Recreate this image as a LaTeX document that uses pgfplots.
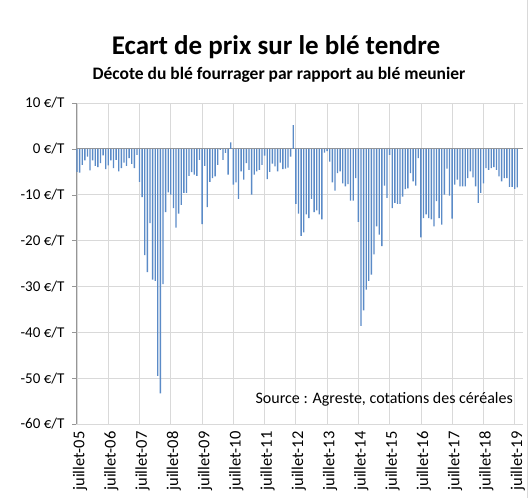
\documentclass[border=0pt]{standalone}
\usepackage{pgfplots}
\pgfplotsset{compat=1.18}
\usepackage{pgfplotstable}
\usepackage{fontspec}
\setmainfont{Carlito}
\definecolor{barblue}{RGB}{91,139,199}
\definecolor{gridgray}{RGB}{217,217,217}
\definecolor{axgray}{RGB}{150,150,150}
\pgfplotstableread{
i v
0 -5
1 -5.2
2 -3.5
3 -2.5
4 -1.7
5 -4.7
6 -2.5
7 -3.7
8 -4
9 -3.1
10 -1.4
11 -4.4
12 -3.6
13 -2.5
14 -4.2
15 -2.4
16 -4.9
17 -4.2
18 -3
19 -3.7
20 -2
21 -3.3
22 -4.2
23 -1.3
24 -7.2
25 -10.5
26 -23.2
27 -26.9
28 -16.2
29 -28.5
30 -28.8
31 -49.5
32 -53.3
33 -29.5
34 -13.8
35 -9.5
36 -10
37 -12.9
38 -17.2
39 -14.1
40 -12.2
41 -9.6
42 -9.6
43 -5.9
44 -5.1
45 -5.6
46 -5.9
47 -2.4
48 -16.4
49 -3.7
50 -12.7
51 -7.2
52 -6.4
53 -6
54 -3.5
55 -0.2
56 -2.4
57 -0.9
58 -5.6
59 1.4
60 -7.8
61 -7.3
62 -10.9
63 -4.9
64 -6.7
65 -3.1
66 -4.6
67 -10
68 -5.6
69 -4.9
70 -4.6
71 -3.5
72 -1.5
73 -6.6
74 -5
75 -3.2
76 -3.8
77 -4.9
78 -3
79 -4.4
80 -4.3
81 -4.1
82 -1.7
83 5.2
84 -12
85 -14.1
86 -19
87 -18.2
88 -14.3
89 -15.1
90 -10.9
91 -13.8
92 -13.4
93 -14.3
94 -15.4
95 -0.8
96 -0.5
97 -2.8
98 -7.3
99 -9.1
100 -5.3
101 -4.9
102 -7.5
103 -8.2
104 -7.7
105 -11.3
106 -11.3
107 -6.4
108 -15.9
109 -38.6
110 -35.2
111 -30.7
112 -28.8
113 -27.4
114 -23
115 -16.9
116 -18.7
117 -21.2
118 -8
119 -10.7
120 -1.3
121 -12.9
122 -11.8
123 -12
124 -12
125 -10.4
126 -8.8
127 -8.6
128 -5.3
129 -7.1
130 -8
131 -2
132 -19.3
133 -15.1
134 -14.3
135 -15.1
136 -15.4
137 -16.9
138 -11.4
139 -15.1
140 -16.5
141 -10
142 -4.3
143 -10.2
144 -15.2
145 -7.8
146 -6.7
147 -8.2
148 -8.2
149 -8.2
150 -6.4
151 -4.9
152 -6.2
153 -8.2
154 -11.8
155 -9.6
156 -7.5
157 -4.2
158 -4.6
159 -4.2
160 -4
161 -4.6
162 -6
163 -7.1
164 -6.4
165 -6.4
166 -8.3
167 -8.3
168 -8.7
169 -8.4
}\ecart
\begin{document}
\begin{tikzpicture}
\path[use as bounding box] (0pt,0pt) rectangle (530pt,498pt);
\draw[gridgray] (527.5pt,0pt) -- (527.5pt,498pt);
\begin{axis}[
  at={(76pt,74pt)}, anchor=south west,
  scale only axis, width=446.5pt, height=321pt,
  xmin=-0.4, xmax=171, ymin=-60, ymax=10,
  axis lines*=left,
  x axis line style={draw=none},
  y axis line style={draw=axgray},
  xtick={0,12,...,168},
  xticklabels={juillet-05,juillet-06,juillet-07,juillet-08,juillet-09,juillet-10,juillet-11,juillet-12,juillet-13,juillet-14,juillet-15,juillet-16,juillet-17,juillet-18,juillet-19},
  x tick label style={rotate=90, anchor=east, font=\fontsize{16.5}{18}\selectfont, yshift=-3pt},
  major x tick style={draw=none},
  ytick={-60,-50,...,10},
  yticklabels={-60 €/T,-50 €/T,-40 €/T,-30 €/T,-20 €/T,-10 €/T,0 €/T,10 €/T},
  y tick label style={font=\fontsize{15}{17}\selectfont, anchor=east, xshift=-4pt},
  tick align=outside, major tick length=4pt,
  major y tick style={draw=axgray},
  grid=major, grid style={gridgray, line width=0.8pt},
  extra y ticks={0}, extra y tick labels={},
  extra y tick style={grid style={axgray, line width=0.9pt}, major tick length=0pt},
  clip=false,
]
\addplot[ybar, bar width=1.35pt, fill=barblue, draw=none] table[x=i, y=v] {\ecart};
\end{axis}
\node[anchor=base, font=\bfseries\fontsize{27}{31}\selectfont] at (276pt,443pt) {Ecart de prix sur le blé tendre};
\node[anchor=base, font=\bfseries\fontsize{17.5}{20}\selectfont] at (279pt,418pt) {Décote du blé fourrager par rapport au blé meunier};
\node[anchor=base east, font=\fontsize{16}{19}\selectfont, inner sep=0pt] at (513pt,94pt) {Source : Agreste, cotations des céréales};
\end{tikzpicture}
\end{document}
